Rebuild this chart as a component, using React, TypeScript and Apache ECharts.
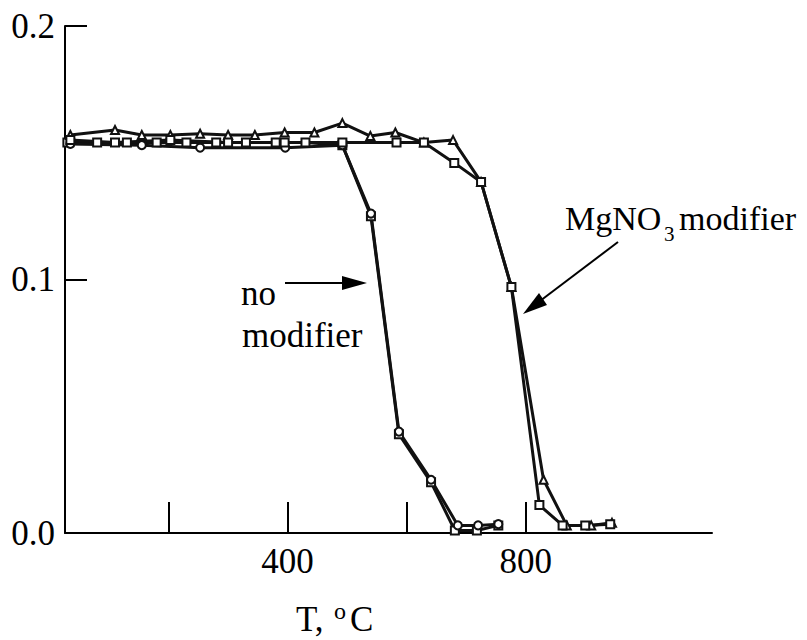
import React, { useEffect, useRef } from "react";
import * as echarts from "echarts";

// Temperature (°C) and values
const noModA_T = [30, 80, 130, 180, 230, 280, 330, 380, 430, 492, 540, 587, 641, 681, 718, 754];
const noModA_V = [0.154, 0.154, 0.154, 0.154, 0.154, 0.154, 0.154, 0.154, 0.154, 0.153, 0.125, 0.039, 0.020, 0.001, 0.001, 0.003];

const noModB_T = [35, 155, 253, 396, 492, 540, 587, 641, 686, 720, 754];
const noModB_V = [0.1535, 0.153, 0.152, 0.152, 0.153, 0.126, 0.040, 0.021, 0.003, 0.003, 0.0035];

const mgA_T = [35, 110, 155, 203, 253, 300, 345, 395, 445, 492, 539, 581, 629, 678, 725, 776, 830, 869, 910, 945];
const mgA_V = [0.157, 0.159, 0.157, 0.157, 0.1575, 0.157, 0.157, 0.158, 0.158, 0.1617, 0.1566, 0.158, 0.154, 0.155, 0.1385, 0.097, 0.021, 0.003, 0.003, 0.004];

const mgB_T = [35, 110, 203, 300, 395, 492, 583, 629, 680, 725, 776, 823, 862, 900, 942];
const mgB_V = [0.155, 0.154, 0.155, 0.154, 0.154, 0.154, 0.154, 0.154, 0.146, 0.1385, 0.097, 0.011, 0.003, 0.003, 0.0035];

const xTickValues = [200, 400, 600, 800];
const xLabelValues = [400, 800];

const FONT = "Liberation Serif";

function pairs(t: number[], v: number[]) {
  return t.map((x, i) => [x, v[i]]);
}

function mkSeries(name: string, t: number[], v: number[], symbol: string) {
  return {
    name,
    type: "line",
    data: pairs(t, v),
    symbol,
    symbolSize: 8,
    showSymbol: true,
    lineStyle: { color: "#111", width: 3 },
    itemStyle: { color: "#fff", borderColor: "#111", borderWidth: 2 },
    emphasis: { disabled: true },
    z: 3,
  };
}

function txt(text: string, x: number, y: number, size: number) {
  return {
    type: "text",
    x,
    y,
    style: {
      text,
      fontSize: size,
      fontFamily: FONT,
      fill: "#000",
      textAlign: "left",
      textVerticalAlign: "middle",
      align: "left",
      verticalAlign: "middle",
    },
  };
}

export default function App() {
  const ref = useRef<HTMLDivElement>(null);
  useEffect(() => {
    if (!ref.current) return;
    const chart = echarts.init(ref.current, null, { renderer: "svg" });
    const tipA = [367, 283];
    const tipB = [523, 314];
    chart.setOption({
      animation: false,
      backgroundColor: "#fff",
      textStyle: { fontFamily: FONT },
      grid: { left: 65, top: 26, width: 647, height: 507, containLabel: false },
      xAxis: {
        type: "value",
        min: 26,
        max: 1113,
        splitLine: { show: false },
        axisLine: { show: true, lineStyle: { color: "#000", width: 2 } },
        axisTick: {
          show: true,
          inside: true,
          length: 31,
          customValues: xTickValues,
          lineStyle: { color: "#000", width: 2 },
        },
        axisLabel: {
          customValues: xLabelValues,
          margin: 11,
          fontSize: 35,
          fontFamily: FONT,
          color: "#000",
        },
      },
      yAxis: {
        type: "value",
        min: 0,
        max: 0.2,
        interval: 0.1,
        splitLine: { show: false },
        axisLine: { show: true, lineStyle: { color: "#000", width: 2 } },
        axisTick: { show: true, inside: true, length: 22, lineStyle: { color: "#000", width: 2 } },
        axisLabel: {
          margin: 10,
          fontSize: 35,
          fontFamily: FONT,
          color: "#000",
          formatter: (v: number) => v.toFixed(1),
        },
      },
      series: [
        mkSeries("no modifier A", noModA_T, noModA_V, "rect"),
        mkSeries("no modifier B", noModB_T, noModB_V, "circle"),
        mkSeries("MgNO3 modifier A", mgA_T, mgA_V, "triangle"),
        mkSeries("MgNO3 modifier B", mgB_T, mgB_V, "rect"),
      ],
      graphic: [
        txt("no", 241, 293, 35),
        txt("modifier", 242, 335, 35),
        txt("MgNO", 565, 218, 34),
        txt("3", 664, 234, 21),
        txt("modifier", 679, 218, 34),
        txt("T,", 296, 619, 35),
        txt("o", 334, 611, 24),
        txt("C", 350, 619, 35),
        {
          type: "line",
          shape: { x1: 285, y1: 283, x2: 348, y2: 283 },
          style: { stroke: "#000", lineWidth: 2 },
        },
        {
          type: "polygon",
          shape: { points: [[342, 276], tipA, [342, 290]] },
          style: { fill: "#000" },
        },
        {
          type: "line",
          shape: { x1: 618, y1: 242, x2: 540, y2: 301 },
          style: { stroke: "#000", lineWidth: 2 },
        },
        {
          type: "polygon",
          shape: { points: [[547, 305], tipB, [539, 293]] },
          style: { fill: "#000" },
        },
      ],
    });
    return () => chart.dispose();
  }, []);
  return (
    <div
      ref={ref}
      style={{ position: "fixed", left: 0, top: 0, width: 807, height: 640, background: "#fff" }}
    />
  );
}
